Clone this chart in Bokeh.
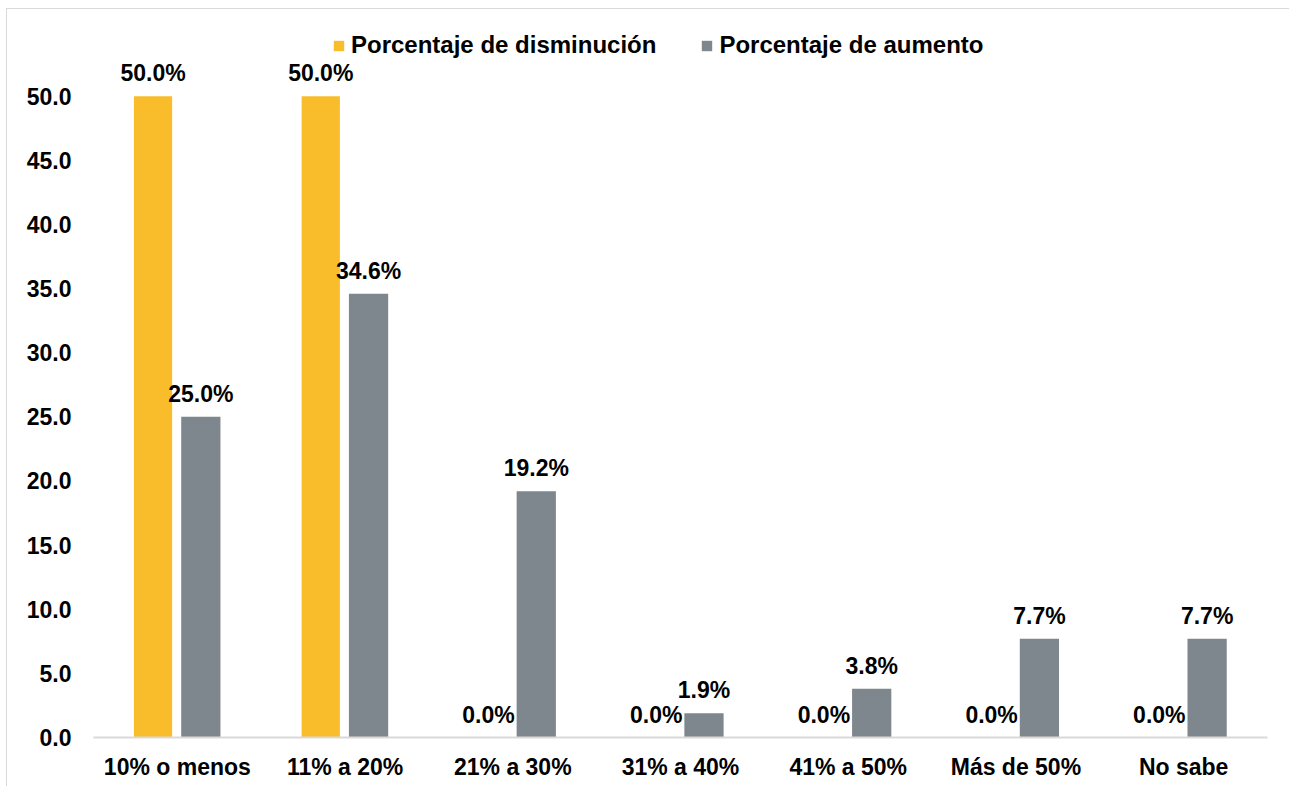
from bokeh.plotting import figure
from bokeh.models import ColumnDataSource, FactorRange, Range1d, Legend, LegendItem, NumeralTickFormatter, FixedTicker
from bokeh.transform import dodge
from bokeh.core.properties import value
from bokeh.embed import file_html
from bokeh.resources import INLINE

categories = ["10% o menos", "11% a 20%", "21% a 30%", "31% a 40%", "41% a 50%", "Más de 50%", "No sabe"]
disminucion = [50.0, 50.0, 0.0, 0.0, 0.0, 0.0, 0.0]
aumento = [25.0, 34.6, 19.2, 1.9, 3.8, 7.7, 7.7]
series_names = ["Porcentaje de disminución", "Porcentaje de aumento"]
y_ticks = [0, 5, 10, 15, 20, 25, 30, 35, 40, 45, 50]

YELLOW = "#F9BC2B"
GRAY = "#7E878D"
FONT = "Liberation Sans"
FS = "23px"

src = ColumnDataSource(dict(
    cat=categories,
    dis=disminucion,
    aum=aumento,
    dis_lbl=[f"{v:.1f}%" for v in disminucion],
    aum_lbl=[f"{v:.1f}%" for v in aumento],
))

p = figure(
    x_range=FactorRange(*categories, range_padding=0),
    y_range=Range1d(0, 54.97),
    width=1283, height=778,
    output_backend="svg", toolbar_location=None,
    min_border_left=86, min_border_right=23, min_border_top=23, min_border_bottom=50,
)
p.styles = {"border-top": "1px solid #d9d9d9", "border-left": "1px solid #d9d9d9",
            "margin-top": "8px", "margin-left": "6px"}

r1 = p.vbar(x=dodge("cat", -0.145, range=p.x_range), top="dis", width=0.228, source=src,
            fill_color=YELLOW, line_color=None)
r2 = p.vbar(x=dodge("cat", 0.14, range=p.x_range), top="aum", width=0.234, source=src,
            fill_color=GRAY, line_color=None)

common = dict(source=src, text_font=value(FONT), text_font_size=FS, text_font_style="bold",
              text_color="#000000", text_align="center", text_baseline="alphabetic", y_offset=-23)
p.text(x=dodge("cat", -0.145, range=p.x_range), y="dis", text="dis_lbl", **common)
p.text(x=dodge("cat", 0.14, range=p.x_range), y="aum", text="aum_lbl", **common)

legend = Legend(items=[LegendItem(label=series_names[0], renderers=[r1]),
                       LegendItem(label=series_names[1], renderers=[r2])],
                orientation="horizontal", location=(239, 678))
legend.glyph_width = 13
legend.glyph_height = 13
legend.label_standoff = 6
legend.spacing = 44
legend.padding = 0
legend.margin = 0
legend.border_line_color = None
legend.background_fill_alpha = 0
legend.label_text_font = FONT
legend.label_text_font_size = "24px"
legend.label_text_font_style = "bold"
legend.label_text_color = "#000000"
p.add_layout(legend)

p.xgrid.grid_line_color = None
p.ygrid.grid_line_color = None
p.outline_line_color = None

p.yaxis.ticker = FixedTicker(ticks=y_ticks)
p.yaxis.formatter = NumeralTickFormatter(format="0.0")
p.yaxis.axis_line_color = None
p.yaxis.major_tick_line_color = None
p.yaxis.minor_tick_line_color = None
p.yaxis.major_tick_out = 0
p.yaxis.major_label_standoff = 22

p.xaxis.axis_line_color = "#d9d9d9"
p.xaxis.axis_line_width = 2
p.xaxis.major_tick_line_color = None
p.xaxis.major_tick_out = 0
p.xaxis.major_label_standoff = 16

for ax in (p.xaxis, p.yaxis):
    ax.major_label_text_font = FONT
    ax.major_label_text_font_size = FS
    ax.major_label_text_font_style = "bold"
    ax.major_label_text_color = "#000000"

open("out.html", "w").write(file_html(p, INLINE))
